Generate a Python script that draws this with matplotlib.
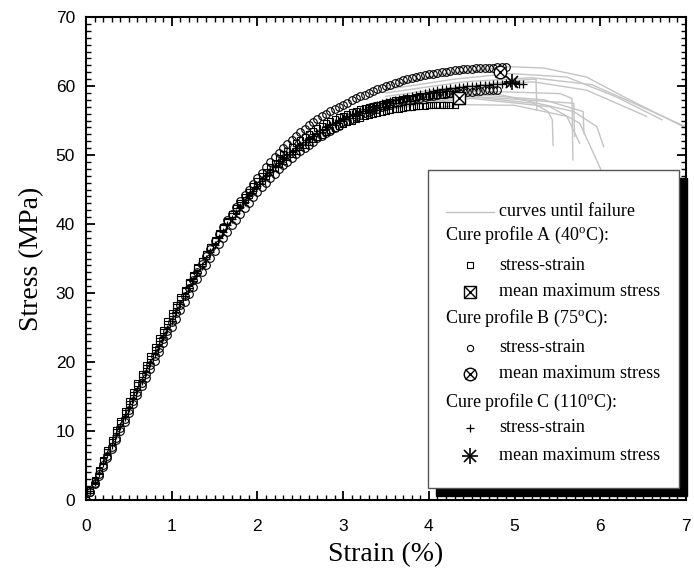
import matplotlib
matplotlib.use('Agg')
import matplotlib.pyplot as plt
from matplotlib.patches import Rectangle
from matplotlib.ticker import MultipleLocator

plt.rcParams['mathtext.fontset'] = 'custom'
plt.rcParams['mathtext.rm'] = 'Liberation Serif'

# ---------------- data ----------------
strain = [0.00, 0.05, 0.10, 0.15, 0.20, 0.25, 0.30, 0.35, 0.40, 0.45,
          0.50, 0.55, 0.60, 0.65, 0.70, 0.75, 0.80, 0.85, 0.90, 0.95,
          1.00, 1.05, 1.10, 1.15, 1.20, 1.25, 1.30, 1.35, 1.40, 1.45,
          1.50, 1.55, 1.60, 1.65, 1.70, 1.75, 1.80, 1.85, 1.90, 1.95,
          2.00, 2.05, 2.10, 2.15, 2.20, 2.25, 2.30, 2.35, 2.40, 2.45,
          2.50, 2.55, 2.60, 2.65, 2.70, 2.75, 2.80, 2.85, 2.90, 2.95,
          3.00, 3.05, 3.10, 3.15, 3.20, 3.25, 3.30, 3.35, 3.40, 3.45,
          3.50, 3.55, 3.60, 3.65, 3.70, 3.75, 3.80, 3.85, 3.90, 3.95,
          4.00, 4.05, 4.10, 4.15, 4.20, 4.25, 4.30, 4.35, 4.40, 4.45,
          4.50, 4.55, 4.60, 4.65, 4.70, 4.75, 4.80, 4.85, 4.90, 4.95,
          5.00, 5.05, 5.10]

# Cure profile A (squares), two specimens
stress_A1 = [0.0, 1.4, 2.9, 4.35, 5.8, 7.25, 8.7, 10.1, 11.5, 12.9,
             14.3, 15.65, 17.0, 18.3, 19.6, 20.9, 22.2, 23.45, 24.7, 25.9,
             27.1, 28.25, 29.4, 30.5, 31.6, 32.65, 33.7, 34.7, 35.7, 36.65,
             37.6, 38.5, 39.4, 40.25, 41.1, 41.9, 42.7, 43.45, 44.2, 44.9,
             45.6, 46.25, 46.9, 47.5, 48.1, 48.65, 49.2, 49.7, 50.2, 50.65,
             51.1, 51.5, 51.9, 52.25, 52.6, 52.95, 53.3, 53.6, 53.9, 54.2,
             54.5, 54.75, 55.0, 55.2, 55.4, 55.6, 55.8, 55.95, 56.1, 56.25,
             56.4, 56.5, 56.6, 56.7, 56.8, 56.9, 57.0, 57.05, 57.1, 57.15,
             57.2, 57.2, 57.2, 57.25, 57.3, 57.3, 57.3]
stress_A2 = [0.0, 1.4, 2.8, 4.2, 5.6, 7.0, 8.4, 9.8, 11.2, 12.55,
             13.9, 15.25, 16.6, 17.9, 19.2, 20.5, 21.8, 23.05, 24.3, 25.5,
             26.7, 27.9, 29.1, 30.25, 31.4, 32.5, 33.6, 34.65, 35.7, 36.7,
             37.7, 38.65, 39.6, 40.5, 41.4, 42.25, 43.1, 43.9, 44.7, 45.45,
             46.2, 46.9, 47.6, 48.25, 48.9, 49.5, 50.1, 50.65, 51.2, 51.7,
             52.2, 52.65, 53.1, 53.5, 53.9, 54.25, 54.6, 54.9, 55.2, 55.45,
             55.7, 55.95, 56.2, 56.4, 56.6, 56.8, 57.0, 57.15, 57.3, 57.45,
             57.6, 57.75, 57.9, 58.0, 58.1, 58.2, 58.3, 58.4, 58.5, 58.55,
             58.6, 58.65, 58.7, 58.75, 58.8, 58.8, 58.8]
# Cure profile B (circles), two specimens
stress_B1 = [0.0, 1.2, 2.5, 3.8, 5.1, 6.4, 7.7, 9.05, 10.4, 11.7,
             13.0, 14.3, 15.6, 16.9, 18.2, 19.5, 20.8, 22.05, 23.3, 24.55,
             25.8, 27.05, 28.3, 29.5, 30.7, 31.85, 33.0, 34.15, 35.3, 36.4,
             37.5, 38.55, 39.6, 40.55, 41.5, 42.4, 43.3, 44.15, 45.0, 45.8,
             46.6, 47.4, 48.2, 48.95, 49.7, 50.35, 51.0, 51.6, 52.2, 52.75,
             53.3, 53.8, 54.3, 54.75, 55.2, 55.6, 56.0, 56.35, 56.7, 57.0,
             57.3, 57.6, 57.9, 58.2, 58.5, 58.75, 59.0, 59.25, 59.5, 59.75,
             60.0, 60.2, 60.4, 60.6, 60.8, 60.95, 61.1, 61.25, 61.4, 61.55,
             61.7, 61.8, 61.9, 62.0, 62.1, 62.2, 62.3, 62.35, 62.4, 62.45,
             62.5, 62.55, 62.6, 62.6, 62.6, 62.65, 62.7, 62.7, 62.7]
stress_B2 = [0.0, 1.1, 2.3, 3.55, 4.8, 6.1, 7.4, 8.7, 10.0, 11.3,
             12.6, 13.9, 15.2, 16.45, 17.7, 18.95, 20.2, 21.45, 22.7, 23.9,
             25.1, 26.3, 27.5, 28.65, 29.8, 30.9, 32.0, 33.05, 34.1, 35.1,
             36.1, 37.05, 38.0, 38.9, 39.8, 40.65, 41.5, 42.3, 43.1, 43.85,
             44.6, 45.3, 46.0, 46.65, 47.3, 47.9, 48.5, 49.05, 49.6, 50.1,
             50.6, 51.05, 51.5, 51.95, 52.4, 52.8, 53.2, 53.55, 53.9, 54.25,
             54.6, 54.9, 55.2, 55.5, 55.8, 56.05, 56.3, 56.5, 56.7, 56.9,
             57.1, 57.3, 57.5, 57.65, 57.8, 57.95, 58.1, 58.2, 58.3, 58.4,
             58.5, 58.6, 58.7, 58.8, 58.9, 58.95, 59.0, 59.05, 59.1, 59.15,
             59.2, 59.25, 59.3, 59.35, 59.4, 59.4, 59.4]
# Cure profile C (plus)
stress_C = [0.0, 1.3, 2.6, 3.95, 5.3, 6.65, 8.0, 9.35, 10.7, 12.05,
            13.4, 14.7, 16.0, 17.3, 18.6, 19.85, 21.1, 22.35, 23.6, 24.8,
            26.0, 27.2, 28.4, 29.55, 30.7, 31.8, 32.9, 33.95, 35.0, 36.0,
            37.0, 37.95, 38.9, 39.8, 40.7, 41.55, 42.4, 43.2, 44.0, 44.75,
            45.5, 46.2, 46.9, 47.55, 48.2, 48.8, 49.4, 49.95, 50.5, 51.0,
            51.5, 51.95, 52.4, 52.8, 53.2, 53.6, 54.0, 54.35, 54.7, 55.0,
            55.3, 55.6, 55.9, 56.15, 56.4, 56.65, 56.9, 57.1, 57.3, 57.5,
            57.7, 57.85, 58.0, 58.15, 58.3, 58.45, 58.6, 58.75, 58.9, 59.05,
            59.2, 59.3, 59.4, 59.5, 59.6, 59.65, 59.7, 59.8, 59.9, 59.95,
            60.0, 60.05, 60.1, 60.15, 60.2, 60.25, 60.3, 60.35, 60.4, 60.4,
            60.4, 60.35, 60.3]

# mean maximum stress points (A, B, C)
mean_strain = [4.35, 4.83, 4.97]
mean_stress = [58.3, 62.0, 60.6]

# grey curves until failure (strain list, stress list)
failure_curves = [
    ([3.5, 4.2, 4.95, 5.34, 5.84, 6.31, 7.05], [60.0, 61.8, 62.8, 62.6, 61.3, 58.2, 53.6]),
    ([3.5, 4.3, 4.95, 5.61, 6.19, 6.72], [59.5, 61.0, 61.8, 61.3, 58.4, 55.1]),
    ([3.5, 4.4, 5.22, 5.84, 6.54], [58.5, 60.0, 60.6, 59.4, 55.6]),
    ([3.5, 4.4, 5.2, 5.9, 6.39, 7.05], [59.0, 60.6, 61.2, 60.2, 57.5, 53.8]),
    ([3.5, 4.4, 5.0, 5.25, 5.26], [58.0, 59.8, 60.8, 61.0, 56.5]),
    ([3.5, 4.44, 5.22, 5.39, 5.44, 5.45], [56.5, 58.5, 57.5, 56.3, 55.1, 51.4]),
    ([3.5, 4.5, 5.53, 5.67, 5.68], [57.5, 59.3, 58.9, 58.2, 49.3]),
    ([3.5, 4.5, 5.69, 5.70], [57.0, 58.5, 57.5, 52.7]),
    ([3.5, 4.4, 5.0, 5.61, 5.76], [56.0, 57.3, 57.2, 55.6, 51.7]),
    ([3.5, 4.5, 5.34, 5.8, 5.81], [57.2, 58.8, 58.0, 56.3, 53.1]),
    ([3.5, 4.5, 5.41, 5.76, 6.0, 6.06], [56.8, 58.2, 57.0, 54.6, 48.1, 44.0]),
    ([3.5, 4.6, 5.69, 5.96, 6.04], [57.8, 59.4, 56.3, 54.1, 51.2]),
]

x_ticks = [0, 1, 2, 3, 4, 5, 6, 7]
y_ticks = [0, 10, 20, 30, 40, 50, 60, 70]

legend_headers = ['Cure profile A (40$^{\\rm o}$C):',
                  'Cure profile B (75$^{\\rm o}$C):',
                  'Cure profile C (110$^{\\rm o}$C):']

# ---------------- figure ----------------
fig = plt.figure(figsize=(6.94, 5.76), dpi=100)
ax = fig.add_axes([86 / 694, 76 / 576, 600 / 694, 483 / 576])

grey = '#c4c4c4'
for xs, ys in failure_curves:
    ax.plot(xs, ys, color=grey, lw=1.0, zorder=1)

mk = dict(ls='none', mfc='none', mec='black', mew=0.8, zorder=3)
ax.plot(strain[:len(stress_A1)], stress_A1, marker='s', ms=5, **mk)
ax.plot(strain[:len(stress_A2)], stress_A2, marker='s', ms=5, **mk)
ax.plot(strain[:len(stress_B1)], stress_B1, marker='o', ms=5.5, **mk)
ax.plot(strain[:len(stress_B2)], stress_B2, marker='o', ms=5.5, **mk)
ax.plot(strain[:len(stress_C)], stress_C, marker='+', ms=6, ls='none',
        color='black', mew=0.9, zorder=3)

big = dict(ls='none', mfc='white', mec='black', mew=1.0, zorder=5)
ax.plot(mean_strain[0], mean_stress[0], marker='s', ms=8.5, **big)
ax.plot(mean_strain[0], mean_stress[0], marker='x', ms=8.5, color='black', mew=1.0, zorder=6)
ax.plot(mean_strain[1], mean_stress[1], marker='o', ms=9, **big)
ax.plot(mean_strain[1], mean_stress[1], marker='x', ms=6.5, color='black', mew=1.0, zorder=6)
ax.plot(mean_strain[2], mean_stress[2], marker='+', ms=11, color='black', mew=1.2, zorder=6)
ax.plot(mean_strain[2], mean_stress[2], marker='x', ms=8, color='black', mew=1.2, zorder=6)

ax.set_xlim(0, 7)
ax.set_ylim(0, 70)
ax.set_xticks(x_ticks)
ax.set_yticks(y_ticks)
ax.xaxis.set_minor_locator(MultipleLocator(0.1))
ax.yaxis.set_minor_locator(MultipleLocator(1))
ax.tick_params(which='both', direction='in', top=True, right=True)
ax.tick_params(which='major', length=6.5, width=1.3)
ax.tick_params(which='minor', length=3.4, width=1.0)
ax.tick_params(axis='x', which='major', pad=14)
ax.tick_params(axis='y', which='major', pad=8)
for lab in ax.get_xticklabels() + ax.get_yticklabels():
    lab.set_fontfamily('Liberation Sans')
    lab.set_fontsize(12.5)
for s in ax.spines.values():
    s.set_linewidth(1.5)

ax.set_xlabel('Strain (%)', fontfamily='Liberation Serif', fontsize=20)
ax.set_ylabel('Stress (MPa)', fontfamily='Liberation Serif', fontsize=20)
ax.xaxis.set_label_coords(0.5, -0.087)
ax.yaxis.set_label_coords(-0.07, 0.5)

# ---------------- manual legend ----------------
def ax_x(px):
    return (px - 86) / 600.0

def ax_y(py):
    return (500 - py) / 483.0

bx0, bx1, by0, by1 = ax_x(428), ax_x(679), ax_y(488), ax_y(170)
shadow = Rectangle((bx0 + 8 / 600, by0 - 8 / 483), bx1 - bx0, by1 - by0,
                   transform=ax.transAxes, facecolor='black', edgecolor='black',
                   zorder=9, clip_on=False)
box = Rectangle((bx0, by0), bx1 - bx0, by1 - by0, transform=ax.transAxes,
                facecolor='white', edgecolor='#555555', lw=1.0, zorder=10,
                clip_on=False)
ax.add_patch(shadow)
ax.add_patch(box)

tx_head = ax_x(445)
tx_mark = ax_x(470)
tx_text = ax_x(499)
font = dict(fontfamily='Liberation Serif', fontsize=13, va='center',
            transform=ax.transAxes, zorder=12)
tr = dict(transform=ax.transAxes, clip_on=False, zorder=12)

ax.plot([ax_x(446), ax_x(494)], [ax_y(212), ax_y(212)], color=grey, lw=1.0, **tr)
ax.text(tx_text, ax_y(212), 'curves until failure', **font)

rows_y = [235, 265, 292, 318, 348, 374, 402, 428, 456]
ax.text(tx_head, ax_y(rows_y[0]), legend_headers[0], **font)
ax.plot(tx_mark, ax_y(rows_y[1]), marker='s', ms=4, mfc='none', mec='black', mew=0.8, **tr)
ax.text(tx_text, ax_y(rows_y[1]), 'stress-strain', **font)
ax.plot(tx_mark, ax_y(rows_y[2]), marker='s', ms=8.5, mfc='white', mec='black', mew=1.0, **tr)
ax.plot(tx_mark, ax_y(rows_y[2]), marker='x', ms=8.5, color='black', mew=1.0, **tr)
ax.text(tx_text, ax_y(rows_y[2]), 'mean maximum stress', **font)

ax.text(tx_head, ax_y(rows_y[3]), legend_headers[1], **font)
ax.plot(tx_mark, ax_y(rows_y[4]), marker='o', ms=4.5, mfc='none', mec='black', mew=0.8, **tr)
ax.text(tx_text, ax_y(rows_y[4]), 'stress-strain', **font)
ax.plot(tx_mark, ax_y(rows_y[5]), marker='o', ms=9, mfc='white', mec='black', mew=1.0, **tr)
ax.plot(tx_mark, ax_y(rows_y[5]), marker='x', ms=6.5, color='black', mew=1.0, **tr)
ax.text(tx_text, ax_y(rows_y[5]), 'mean maximum stress', **font)

ax.text(tx_head, ax_y(rows_y[6]), legend_headers[2], **font)
ax.plot(tx_mark, ax_y(rows_y[7]), marker='+', ms=6, color='black', mew=0.9, **tr)
ax.text(tx_text, ax_y(rows_y[7]), 'stress-strain', **font)
ax.plot(tx_mark, ax_y(rows_y[8]), marker='+', ms=11, color='black', mew=1.2, **tr)
ax.plot(tx_mark, ax_y(rows_y[8]), marker='x', ms=8, color='black', mew=1.2, **tr)
ax.text(tx_text, ax_y(rows_y[8]), 'mean maximum stress', **font)

fig.savefig('out.png', dpi=100)
